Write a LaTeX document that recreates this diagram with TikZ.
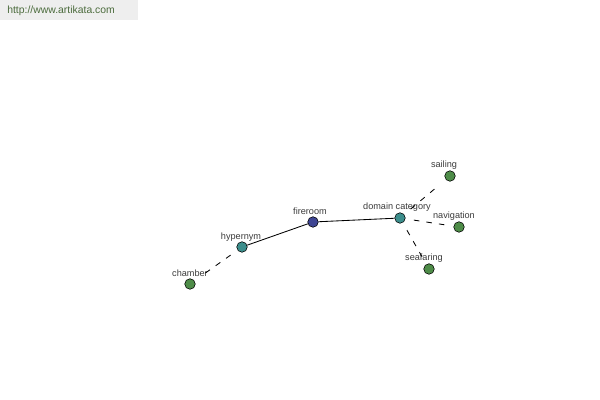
\documentclass[tikz,border=0pt]{standalone}
\usepackage{fontspec}
\setmainfont{Liberation Sans}
\usepackage{tikz}

\begin{document}
\begin{tikzpicture}[x=0.025cm,y=-0.025cm]
\definecolor{wordHead}{HTML}{3E4593}
\definecolor{wordRel}{HTML}{3C8E8C}
\definecolor{wordLeaf}{HTML}{4E8C48}
\definecolor{wordText}{HTML}{3A3A3A}
\definecolor{bannerBack}{HTML}{EEEEEE}
\definecolor{bannerText}{HTML}{4B6B3C}
\tikzset{
  dot/.style={circle,draw=black,line width=0.4pt,inner sep=0pt,minimum size=7.5pt},
  tag/.style={text=wordText,font=\fontsize{6.5}{7}\selectfont,inner sep=0pt},
  link/.style={line width=0.6pt},
  loose/.style={line width=0.6pt,dash pattern=on 4pt off 5pt,shorten <=6pt,shorten >=6pt}
}
\useasboundingbox (0,0) rectangle (600,400);
% banner
\fill[bannerBack] (0,0) rectangle (138,20);
\node[text=bannerText,font=\fontsize{7.4}{8}\selectfont,anchor=west,inner sep=0pt] (site) at (7,11) {http://www.artikata.com};
% word nodes
\node[dot,fill=wordHead] (fireroom) at (313,222) {};
\node[dot,fill=wordRel] (hypernym) at (242,247) {};
\node[dot,fill=wordRel] (domcat) at (400,218) {};
\node[dot,fill=wordLeaf] (chamber) at (190,284) {};
\node[dot,fill=wordLeaf] (sailing) at (450,176) {};
\node[dot,fill=wordLeaf] (navigation) at (459,227) {};
\node[dot,fill=wordLeaf] (seafaring) at (429,269) {};
% labels
\foreach \p/\x/\y/\lab in {fireroom/310/211/fireroom,hypernym/241/237/hypernym,
  domcat/397/207/domain category,chamber/190/273/chamber,sailing/444/165/sailing,
  navigation/454/216/navigation,seafaring/424/258/seafaring} {
  \node[tag] (\p-tag) at (\x,\y) {\lab};
}
% connectors
\draw[link] (hypernym) -- (fireroom);
\draw[link] (fireroom) -- (domcat);
\draw[loose] (hypernym) -- (chamber);
\draw[loose] (domcat) -- (sailing);
\draw[loose] (domcat) -- (navigation);
\draw[loose] (domcat) -- (seafaring);
\end{tikzpicture}
\end{document}
